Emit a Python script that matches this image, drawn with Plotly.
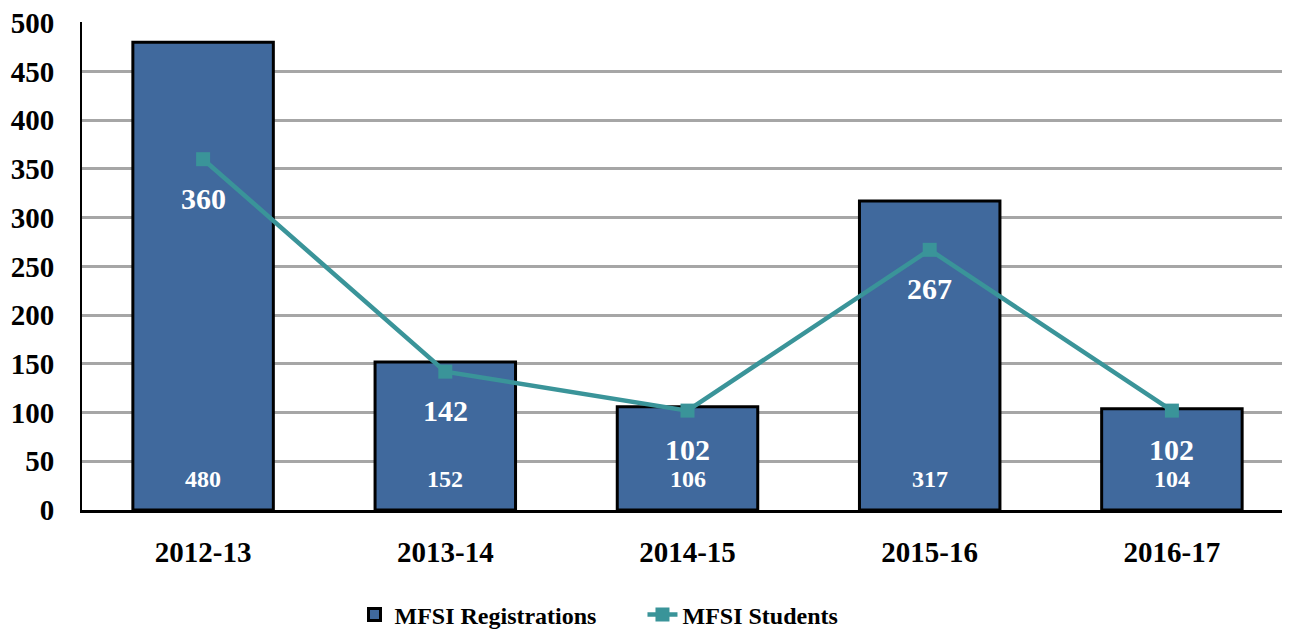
import plotly.graph_objects as go

categories = ["2012-13", "2013-14", "2014-15", "2015-16", "2016-17"]
registrations = [480, 152, 106, 317, 104]
students = [360, 142, 102, 267, 102]
y_ticks = [0, 50, 100, 150, 200, 250, 300, 350, 400, 450, 500]

FONT = "'Liberation Serif', 'Times New Roman', 'DejaVu Serif', serif"
BAR_COLOR = "#40699D"
LINE_COLOR = "#3A9499"

fig = go.Figure()
fig.add_trace(go.Bar(
    x=categories, y=registrations, name="<b>MFSI Registrations</b>",
    marker=dict(color=BAR_COLOR, line=dict(color="black", width=3)),
    width=0.58,
))
fig.add_trace(go.Scatter(
    x=categories, y=students, name="<b>MFSI Students</b>", mode="lines+markers",
    line=dict(color=LINE_COLOR, width=4.5),
    marker=dict(symbol="square", size=14, color=LINE_COLOR),
))

for c, v in zip(categories, registrations):
    fig.add_annotation(x=c, y=0, text=f"<b>{v}</b>", showarrow=False,
                       yanchor="middle", yshift=31,
                       font=dict(family=FONT, size=24, color="white"))
for c, v in zip(categories, students):
    fig.add_annotation(x=c, y=v, text=f"<b>{v}</b>", showarrow=False,
                       yanchor="middle", yshift=-39,
                       font=dict(family=FONT, size=30, color="white"))

# page body has an 8px margin, so margins are compensated accordingly
fig.update_layout(
    width=1290, height=633,
    margin=dict(l=74, r=5, t=14, b=131, autoexpand=False),
    plot_bgcolor="white", paper_bgcolor="white",
    font=dict(family=FONT, size=24, color="black"),
    showlegend=True,
    legend=dict(orientation="h", x=0.225, xanchor="left", y=-0.215, yanchor="middle",
                font=dict(family=FONT, size=24, color="black"),
                entrywidth=243, entrywidthmode="pixels", tracegroupgap=0),
    bargap=0.42,
)
fig.update_yaxes(range=[0, 500.8], tickvals=y_ticks,
                 ticktext=[f"<b>{t}</b>" for t in y_ticks],
                 showgrid=True, gridcolor="#A6A6A6", gridwidth=2.5,
                 showline=True, linecolor="black", linewidth=2,
                 zeroline=False, ticks="", tickfont=dict(family=FONT, size=29),
                 ticklabelstandoff=20, ticklabeloverflow="allow")
fig.update_xaxes(tickvals=categories, ticktext=[f"<b>{c}</b>" for c in categories],
                 showline=True, linecolor="black", linewidth=3, ticks="",
                 tickfont=dict(family=FONT, size=29), ticklabelstandoff=14,
                 ticklabeloverflow="allow")

fig.write_html("out.html")
